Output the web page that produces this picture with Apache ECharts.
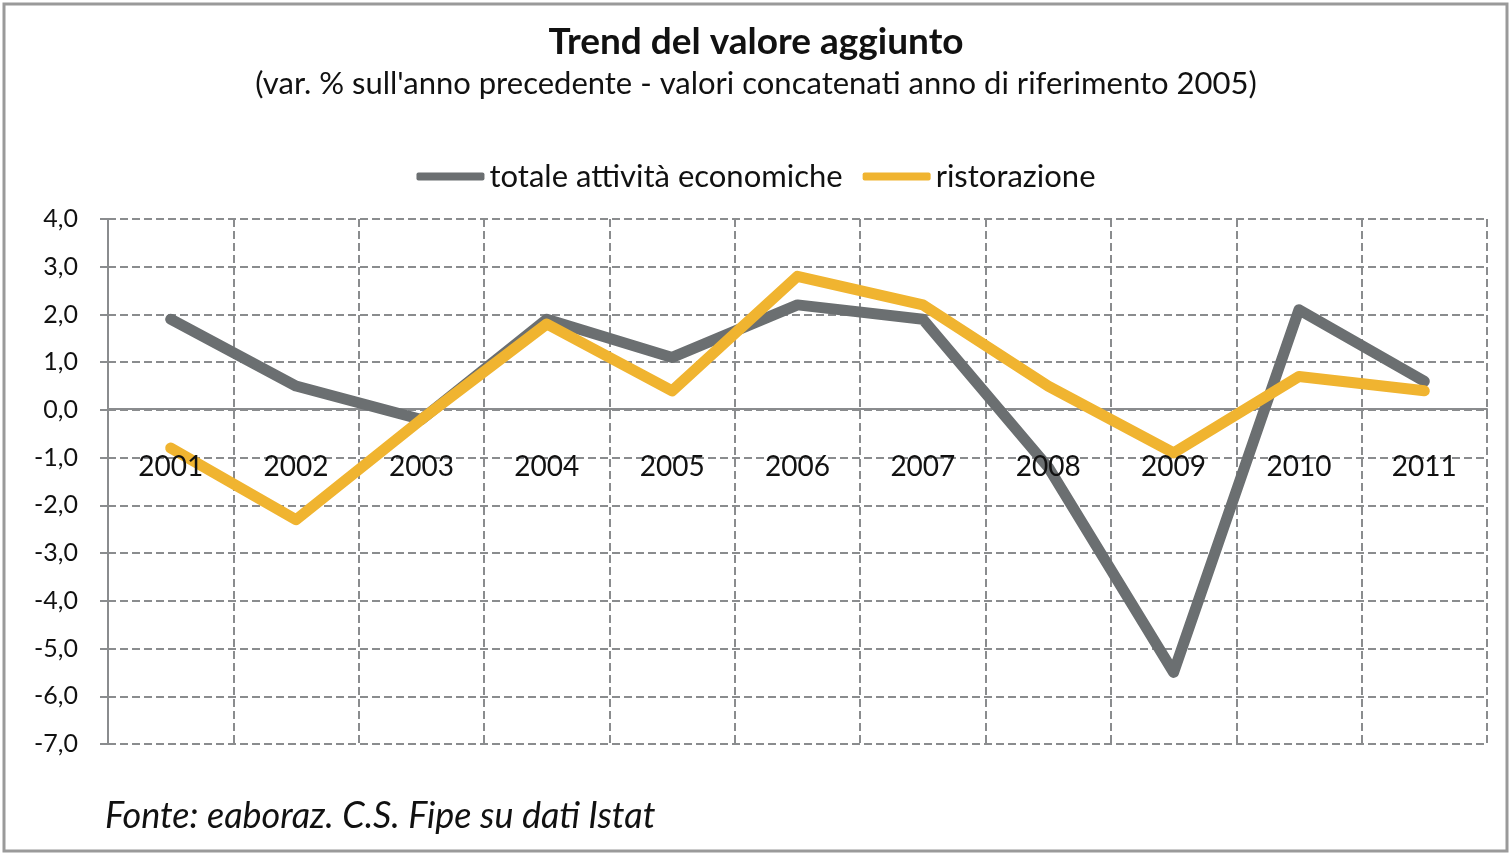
<!DOCTYPE html>
<html>
<head>
<meta charset="utf-8">
<script src="https://cdn.jsdelivr.net/npm/echarts@6/dist/echarts.min.js"></script>
<style>
html,body{margin:0;padding:0;background:#fff;}
#c{width:1512px;height:856px;}
</style>
</head>
<body>
<div id="c"></div>
<script>
var years = ['2001','2002','2003','2004','2005','2006','2007','2008','2009','2010','2011'];
var totale = [1.9, 0.5, -0.2, 1.9, 1.1, 2.2, 1.9, -1.2, -5.5, 2.1, 0.6];
var ristorazione = [-0.8, -2.3, -0.2, 1.8, 0.4, 2.8, 2.2, 0.5, -0.9, 0.7, 0.4];
var seriesNames = ['totale attività economiche', 'ristorazione'];
var titleText = 'Trend del valore aggiunto';
var subtitleText = "(var. % sull'anno precedente - valori concatenati anno di riferimento 2005)";
var sourceText = 'Fonte: eaboraz. C.S. Fipe su dati Istat';

var FONT = 'Lato, "Open Sans", sans-serif';
var chart = echarts.init(document.getElementById('c'));
chart.setOption({
  backgroundColor: '#fff',
  animation: false,
  textStyle: {fontFamily: FONT},
  title: [{
    text: titleText,
    left: 'center',
    top: 19,
    textStyle: {fontFamily: FONT, fontSize: 37, fontWeight: 'bold', color: '#111'}
  }, {
    text: subtitleText,
    left: 'center',
    top: 63,
    textStyle: {fontFamily: FONT, fontSize: 31, fontWeight: 'normal', color: '#111'}
  }, {
    text: sourceText,
    left: 100,
    top: 793,
    textStyle: {fontFamily: FONT, fontSize: 36, fontStyle: 'italic', fontWeight: 'normal', color: '#111'}
  }],
  graphic: [{
    type: 'rect',
    shape: {x: 4, y: 4, width: 1503, height: 847},
    style: {fill: 'none', stroke: '#9a9a9a', lineWidth: 3},
    silent: true
  }],
  legend: {
    top: 156,
    left: 'center',
    itemWidth: 68,
    itemHeight: 8,
    itemGap: 20,
    icon: 'roundRect',
    textStyle: {fontFamily: FONT, fontSize: 31, color: '#111'},
    data: seriesNames
  },
  grid: {left: 108, right: 25, top: 219, bottom: 112, containLabel: false},
  xAxis: [{
    type: 'category',
    data: years,
    boundaryGap: true,
    position: 'bottom',
    offset: -335,
    z: 1,
    axisLine: {onZero: false, lineStyle: {color: '#8a8c8e', width: 2}},
    axisTick: {show: true, length: 6, lineStyle: {color: '#8a8c8e', width: 2}},
    axisLabel: {show: false},
    splitLine: {show: true, lineStyle: {color: '#8a8c8e', type: [8, 4], width: 2}}
  }, {
    type: 'category',
    data: years,
    boundaryGap: true,
    position: 'bottom',
    offset: -335,
    z: 10,
    axisLine: {show: false, onZero: false},
    axisTick: {show: false},
    axisLabel: {margin: 44, fontFamily: FONT, fontSize: 28, color: '#111'},
    splitLine: {show: false}
  }],
  yAxis: {
    type: 'value',
    min: -7,
    max: 4,
    interval: 1,
    axisLine: {show: true, lineStyle: {color: '#8a8c8e', width: 2}},
    axisTick: {show: true, inside: false, length: 8, lineStyle: {color: '#8a8c8e', width: 2}},
    axisLabel: {
      margin: 30,
      fontFamily: FONT,
      fontSize: 25,
      color: '#111',
      formatter: function (v) { return v.toFixed(1).replace('.', ','); }
    },
    splitLine: {show: true, lineStyle: {color: '#8a8c8e', type: [8, 4], width: 2}}
  },
  series: [{
    name: seriesNames[0],
    type: 'line',
    xAxisIndex: 0,
    data: totale,
    showSymbol: false,
    symbol: 'none',
    itemStyle: {color: '#6b6f71'},
    lineStyle: {color: '#6b6f71', width: 11, cap: 'round', join: 'round'},
    z: 3
  }, {
    name: seriesNames[1],
    type: 'line',
    xAxisIndex: 0,
    data: ristorazione,
    showSymbol: false,
    symbol: 'none',
    itemStyle: {color: '#f0b430'},
    lineStyle: {color: '#f0b430', width: 11, cap: 'round', join: 'round'},
    z: 4
  }]
});
</script>
</body>
</html>
